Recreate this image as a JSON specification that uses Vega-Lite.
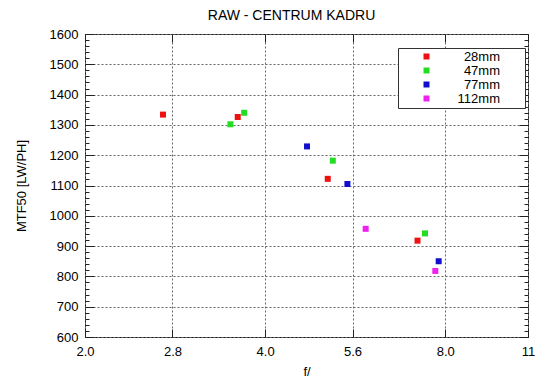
{
  "$schema": "https://vega.github.io/schema/vega-lite/v6.json",
  "width": 443,
  "height": 303,
  "autosize": "none",
  "padding": {"left": 85, "top": 34, "right": 22, "bottom": 52},
  "background": "white",
  "title": {
    "text": "RAW - CENTRUM KADRU",
    "font": "Liberation Sans",
    "fontSize": 14,
    "fontWeight": "normal",
    "color": "black",
    "anchor": "middle",
    "dx": -15,
    "baseline": "alphabetic",
    "offset": -6
  },
  "config": {
    "view": {"stroke": "#222", "strokeWidth": 1},
    "axis": {
      "labelFont": "Liberation Sans",
      "titleFont": "Liberation Sans",
      "labelFontSize": 13,
      "titleFontSize": 13,
      "titleFontWeight": "normal",
      "labelColor": "black",
      "titleColor": "black",
      "tickColor": "#222",
      "tickOpacity": 1,
      "tickWidth": 1,
      "domain": false,
      "minExtent": 0
    }
  },
  "data": {
    "values": [
      {"f": 2.7, "mtf": 1334, "lens": "28mm"},
      {"f": 3.6, "mtf": 1326, "lens": "28mm"},
      {"f": 5.09, "mtf": 1122, "lens": "28mm"},
      {"f": 7.19, "mtf": 918, "lens": "28mm"},
      {"f": 3.5, "mtf": 1302, "lens": "47mm"},
      {"f": 3.69, "mtf": 1340, "lens": "47mm"},
      {"f": 5.19, "mtf": 1182, "lens": "47mm"},
      {"f": 7.4, "mtf": 942, "lens": "47mm"},
      {"f": 4.7, "mtf": 1229, "lens": "77mm"},
      {"f": 5.49, "mtf": 1105, "lens": "77mm"},
      {"f": 7.8, "mtf": 850, "lens": "77mm"},
      {"f": 5.89, "mtf": 957, "lens": "112mm"},
      {"f": 7.7, "mtf": 818, "lens": "112mm"}
    ]
  },
  "resolve": {"axis": {"x": "independent", "y": "independent"}},
  "layer": [
    {
      "mark": {"type": "point", "shape": "square", "filled": true, "size": 36, "opacity": 1},
      "encoding": {
        "x": {
          "field": "f", "type": "quantitative",
          "scale": {"type": "log", "base": 2, "domain": [2, 11], "nice": false},
          "axis": {
            "orient": "bottom",
            "title": "f/",
            "values": [2, 2.8, 4, 5.6, 8, 11],
            "labelExpr": "datum.value == 11 ? '11' : format(datum.value, '.1f')",
            "offset": -8,
            "tickSize": 8,
            "labelPadding": 8,
            "labelFlush": false,
            "grid": true,
            "gridColor": "#666",
            "gridDash": [2, 2],
            "gridOpacity": 1,
            "titleY": 46,
            "titleBaseline": "alphabetic"
          }
        },
        "y": {
          "field": "mtf", "type": "quantitative",
          "scale": {"domain": [600, 1600], "nice": false, "zero": false},
          "axis": {
            "orient": "left",
            "title": "MTF50 [LW/PH]",
            "values": [600, 700, 800, 900, 1000, 1100, 1200, 1300, 1400, 1500, 1600],
            "format": "d",
            "offset": -9,
            "tickSize": 9,
            "labelPadding": 7,
            "labelFlush": false,
            "grid": true,
            "gridColor": "#666",
            "gridDash": [2, 2],
            "gridOpacity": 1,
            "titleX": -73,
            "titleY": 151.5,
            "titleAlign": "center",
            "titleBaseline": "middle"
          }
        },
        "color": {
          "field": "lens", "type": "nominal",
          "scale": {"domain": ["28mm", "47mm", "77mm", "112mm"], "range": ["#ee1111", "#22dd22", "#1010cc", "#ee22ee"]},
          "legend": {
            "title": "MM",
            "titleOrient": "right",
            "titleColor": "white",
            "titleFont": "Liberation Sans",
            "titleFontSize": 13,
            "titlePadding": 1,
            "orient": "none",
            "legendX": 313,
            "legendY": 14,
            "symbolType": "square",
            "symbolSize": 36,
            "labelFont": "Liberation Sans",
            "labelFontSize": 13,
            "labelColor": "black",
            "labelAlign": "right",
            "labelOffset": 67,
            "strokeColor": "#333",
            "fillColor": "white",
            "padding": 2,
            "rowPadding": 0,
            "symbolOffset": 20
          }
        }
      }
    },
    {
      "mark": {"type": "point", "opacity": 0},
      "encoding": {
        "x": {
          "field": "f", "type": "quantitative",
          "axis": {"orient": "top", "title": null, "values": [2, 2.8, 4, 5.6, 8, 11], "labels": false, "offset": -8, "tickSize": 8, "grid": false, "maxExtent": 0}
        },
        "y": {
          "field": "mtf", "type": "quantitative",
          "axis": {"orient": "right", "title": null, "values": [600, 700, 800, 900, 1000, 1100, 1200, 1300, 1400, 1500, 1600], "labels": false, "offset": -9, "tickSize": 9, "grid": false}
        }
      }
    },
    {
      "mark": {"type": "point", "opacity": 0},
      "encoding": {
        "x": {"field": "f", "type": "quantitative", "axis": null},
        "y": {
          "field": "mtf", "type": "quantitative",
          "axis": {"orient": "left", "title": null, "values": [600,620,640,660,680,700,720,740,760,780,800,820,840,860,880,900,920,940,960,980,1000,1020,1040,1060,1080,1100,1120,1140,1160,1180,1200,1220,1240,1260,1280,1300,1320,1340,1360,1380,1400,1420,1440,1460,1480,1500,1520,1540,1560,1580,1600], "labels": false, "offset": -4, "tickSize": 4, "grid": false}
        }
      }
    },
    {
      "mark": {"type": "point", "opacity": 0},
      "encoding": {
        "x": {"field": "f", "type": "quantitative", "axis": null},
        "y": {
          "field": "mtf", "type": "quantitative",
          "axis": {"orient": "right", "title": null, "values": [600,620,640,660,680,700,720,740,760,780,800,820,840,860,880,900,920,940,960,980,1000,1020,1040,1060,1080,1100,1120,1140,1160,1180,1200,1220,1240,1260,1280,1300,1320,1340,1360,1380,1400,1420,1440,1460,1480,1500,1520,1540,1560,1580,1600], "labels": false, "offset": -4, "tickSize": 4, "grid": false}
        }
      }
    }
  ]
}
